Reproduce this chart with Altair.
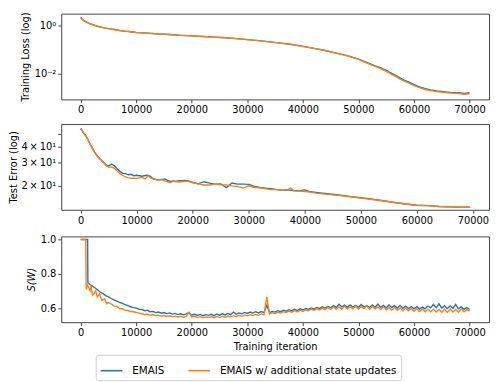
import altair as alt
import pandas as pd

S1 = "EMAIS"
S2 = "EMAIS w/ additional state updates"
BLUE = "#1f77b4"
ORANGE = "#ff7f0e"

# ---------------- Training loss (top) ----------------
loss_iter = [0, 250, 500, 1000, 1500, 2000, 3000, 4000, 5000, 6000, 7000, 8000, 9000, 10000,
             12000, 14000, 16000, 18000, 20000, 22000, 24000, 26000, 28000, 30000,
             32000, 34000, 36000, 38000, 40000, 42000, 44000, 46000, 48000, 50000,
             51000, 52000, 53000, 54000, 55000, 56000, 57000, 58000, 59000, 60000,
             61000, 62000, 63000, 64000, 65000, 66000, 67000, 68000, 69000, 70000]
loss_emais_su = [2.19, 1.82, 1.62, 1.40, 1.23, 1.12, 0.93, 0.82, 0.74, 0.68, 0.62, 0.58, 0.55, 0.51,
                 0.48, 0.44, 0.42, 0.39, 0.37, 0.35, 0.33, 0.31, 0.285, 0.257,
                 0.234, 0.209, 0.186, 0.162, 0.135, 0.112, 0.091, 0.071, 0.055, 0.039,
                 0.031, 0.025, 0.020, 0.016, 0.0125, 0.0093, 0.0070, 0.0051, 0.0041, 0.0032,
                 0.0026, 0.0022, 0.0020, 0.0018, 0.0017, 0.0016, 0.00155, 0.0015, 0.0014, 0.00145]
loss_emais = [2.19, 1.82, 1.62, 1.40, 1.23, 1.12, 0.93, 0.82, 0.74, 0.68, 0.62, 0.58, 0.55, 0.51,
              0.48, 0.44, 0.42, 0.39, 0.37, 0.35, 0.33, 0.31, 0.285, 0.257,
              0.234, 0.209, 0.186, 0.162, 0.135, 0.112, 0.091, 0.071, 0.056, 0.040,
              0.032, 0.026, 0.021, 0.0172, 0.0138, 0.0102, 0.0077, 0.0057, 0.0045, 0.0035,
              0.0028, 0.0024, 0.0021, 0.0019, 0.0018, 0.0017, 0.0016, 0.0016, 0.0015, 0.0016]

# ---------------- Test error (middle) ----------------
err_iter = [0, 500, 1000, 1500, 2000, 2500, 3000, 3500, 4000, 4500, 5000, 5500, 6000, 6500,
            7000, 7500, 8000, 8500, 9000, 9500, 10000, 10500, 11000, 11500, 12000, 12500,
            13000, 13500, 14000, 14500, 15000, 15500, 16000, 16500, 17000, 17500, 18000,
            18500, 19000, 19500, 20000, 21000, 22000, 23000, 24000, 25000, 26000, 27000,
            28000, 29000, 30000, 31000, 32000, 33000, 34000, 35000, 36000, 37000, 37500,
            38000, 39000, 40000, 41000, 42000, 44000, 46000, 48000, 50000, 52000, 54000,
            56000, 58000, 60000, 62000, 64000, 66000, 68000, 69500]
err_emais_su = [55.0, 51.0, 47.7, 43.0, 39.1, 36.0, 33.5, 31.7, 30.3, 28.6, 27.8, 27.8, 27.3, 26.0,
                24.8, 24.0, 23.4, 23.0, 22.8, 22.9, 22.8, 23.0, 23.2, 22.6, 23.9, 22.9,
                22.8, 22.3, 22.1, 22.3, 21.8, 21.5, 21.2, 21.6, 21.6, 21.4, 21.5,
                21.6, 21.7, 21.4, 21.2, 20.7, 20.3, 20.3, 20.6, 20.4, 20.3, 20.0,
                19.8, 19.2, 20.0, 19.4, 19.3, 19.0, 18.7, 18.7, 18.5, 18.7, 19.3,
                18.3, 18.2, 18.1, 17.9, 17.6, 17.2, 16.9, 16.5, 16.1, 15.7, 15.3,
                14.9, 14.5, 14.2, 14.1, 13.9, 13.8, 13.7, 13.7]
err_emais = [55.0, 51.2, 47.9, 43.3, 39.4, 36.3, 33.8, 32.0, 30.6, 29.0, 28.3, 29.4, 28.6, 27.0,
             25.8, 24.9, 24.8, 24.3, 24.5, 23.9, 24.1, 23.9, 23.7, 24.0, 24.1, 23.5,
             22.5, 22.3, 22.1, 22.4, 22.6, 22.0, 21.6, 21.8, 21.6, 21.9, 21.9,
             22.0, 21.9, 21.6, 21.2, 20.7, 21.5, 21.0, 20.6, 20.7, 19.4, 21.0,
             20.6, 20.6, 20.5, 19.8, 19.4, 19.2, 19.0, 18.7, 18.5, 18.6, 18.5,
             18.4, 18.3, 18.6, 18.0, 17.8, 17.4, 17.0, 16.6, 16.2, 15.8, 15.4,
             14.9, 14.5, 14.2, 14.1, 13.9, 13.8, 13.7, 13.7]

# ---------------- S(W) (bottom) ----------------
s_iter_tail = list(range(10000, 70001, 500))
s_iter_head_su = [0, 500, 900, 1000, 1200, 1500, 1700, 1900, 2100, 2400, 2700, 3000, 3400,
                  3800, 4300, 4700, 5000, 5500, 6000, 6500, 7000, 7500, 8000, 8500, 9000, 9500]
s_head_su = [1.0, 1.0, 1.0, 0.71, 0.735, 0.72, 0.70, 0.73, 0.675, 0.685, 0.70, 0.665, 0.683,
             0.645, 0.655, 0.626, 0.632, 0.624, 0.613, 0.610, 0.597, 0.596, 0.587, 0.586, 0.580, 0.579]
s_iter_head = [0, 500, 1000, 1250, 1300, 1500, 2000, 2500, 3000, 3500, 4000, 4500, 5000, 5500,
               6000, 6500, 7000, 7500, 8000, 8500, 9000, 9500]
s_head = [1.0, 1.0, 1.0, 1.0, 0.749, 0.742, 0.732, 0.720, 0.707, 0.694, 0.684, 0.673, 0.665, 0.656,
          0.648, 0.641, 0.633, 0.627, 0.620, 0.614, 0.608, 0.603]
s_tail = [0.600, 0.594, 0.592, 0.585, 0.588, 0.579, 0.581, 0.574, 0.577, 0.570,
          0.574, 0.568, 0.572, 0.565, 0.569, 0.562, 0.567, 0.561, 0.566, 0.574,
          0.559, 0.564, 0.557, 0.563, 0.556, 0.562, 0.558, 0.564, 0.556, 0.566,
          0.559, 0.567, 0.560, 0.569, 0.562, 0.577, 0.565, 0.572, 0.567, 0.575,
          0.569, 0.577, 0.571, 0.579, 0.572, 0.580, 0.574, 0.617, 0.574, 0.581,
          0.577, 0.585, 0.579, 0.588, 0.582, 0.591, 0.584, 0.593, 0.586, 0.596,
          0.589, 0.598, 0.592, 0.601, 0.594, 0.604, 0.597, 0.607, 0.599, 0.611,
          0.602, 0.614, 0.604, 0.622, 0.607, 0.617, 0.605, 0.619, 0.606, 0.616,
          0.604, 0.621, 0.606, 0.615, 0.603, 0.619, 0.605, 0.623, 0.604, 0.616,
          0.602, 0.618, 0.603, 0.614, 0.600, 0.616, 0.599, 0.612, 0.597, 0.609,
          0.596, 0.608, 0.594, 0.606, 0.596, 0.612, 0.601, 0.622, 0.603, 0.625,
          0.600, 0.614, 0.597, 0.612, 0.598, 0.621, 0.596, 0.607, 0.593, 0.603,
          0.592]
s_tail_su = [0.575, 0.571, 0.567, 0.563, 0.565, 0.559, 0.561, 0.556, 0.559, 0.553,
             0.557, 0.551, 0.555, 0.549, 0.553, 0.548, 0.552, 0.547, 0.551, 0.576,
             0.548, 0.552, 0.545, 0.550, 0.544, 0.549, 0.545, 0.551, 0.544, 0.552,
             0.546, 0.553, 0.547, 0.554, 0.549, 0.556, 0.550, 0.558, 0.552, 0.560,
             0.555, 0.562, 0.557, 0.563, 0.558, 0.566, 0.561, 0.664, 0.566, 0.573,
             0.568, 0.576, 0.571, 0.579, 0.574, 0.582, 0.576, 0.585, 0.578, 0.588,
             0.581, 0.590, 0.584, 0.594, 0.586, 0.597, 0.589, 0.600, 0.591, 0.604,
             0.592, 0.606, 0.593, 0.607, 0.594, 0.611, 0.595, 0.609, 0.596, 0.612,
             0.595, 0.608, 0.597, 0.613, 0.594, 0.609, 0.596, 0.607, 0.592, 0.606,
             0.590, 0.604, 0.589, 0.603, 0.587, 0.601, 0.585, 0.600, 0.584, 0.598,
             0.582, 0.597, 0.580, 0.595, 0.579, 0.593, 0.578, 0.594, 0.577, 0.592,
             0.576, 0.593, 0.575, 0.594, 0.577, 0.592, 0.576, 0.595, 0.578, 0.591,
             0.583]

x_ticks = [0, 10000, 20000, 30000, 40000, 50000, 60000, 70000]

assert len(loss_iter) == len(loss_emais) == len(loss_emais_su)
assert len(err_iter) == len(err_emais) == len(err_emais_su)
assert len(s_iter_head) == len(s_head) and len(s_iter_head_su) == len(s_head_su)
assert len(s_iter_tail) == len(s_tail) == len(s_tail_su)


def long_df(xs1, ys1, xs2, ys2):
    a = pd.DataFrame({"iter": xs1, "value": ys1, "series": S1, "k": range(len(xs1))})
    b = pd.DataFrame({"iter": xs2, "value": ys2, "series": S2, "k": range(len(xs2))})
    return pd.concat([a, b], ignore_index=True)


df_loss = long_df(loss_iter, loss_emais, loss_iter, loss_emais_su)
df_err = long_df(err_iter, err_emais, err_iter, err_emais_su)
df_s = long_df(s_iter_head + s_iter_tail, s_head + s_tail,
               s_iter_head_su + s_iter_tail, s_head_su + s_tail_su)

color_scale = alt.Scale(domain=[S1, S2], range=[BLUE, ORANGE])
legend = alt.Legend(title=None, orient="none", legendX=35, legendY=346, direction="horizontal",
                    symbolType="stroke", symbolStrokeWidth=1.6, symbolSize=484,
                    labelFontSize=10.5, labelFont="DejaVu Sans", labelColor="black",
                    labelLimit=400, strokeColor="#cccccc", cornerRadius=3, padding=4,
                    columnPadding=20, labelOffset=9)

W = 434
H = 87


def panel(df, xdomain, yscale, yaxis, xtitle):
    xaxis = alt.Axis(values=x_ticks, format="d", title=xtitle)
    layers = []
    for s in [S1, S2]:
        layers.append(
            alt.Chart(df).transform_filter(alt.datum.series == s).mark_line(
                strokeWidth=1.4, clip=True
            ).encode(
                x=alt.X("iter:Q", scale=alt.Scale(domain=xdomain, nice=False, zero=False), axis=xaxis),
                y=alt.Y("value:Q", scale=yscale, axis=yaxis),
                color=alt.Color("series:N", scale=color_scale, legend=legend),
                order="k:Q",
            )
        )
    return alt.layer(*layers).properties(width=W, height=H)


top = panel(
    df_loss, [-3500, 73500],
    alt.Scale(type="log", domain=[0.00085, 3.1], nice=False),
    alt.Axis(values=[1, 0.01], title="Training Loss (log)",
             labelExpr="datum.value >= 1 ? '10⁰' : '10⁻²'"),
    None,
)
mid = panel(
    df_err, [-3470, 72870],
    alt.Scale(type="log", domain=[13.1, 59.5], nice=False),
    alt.Axis(values=[20, 30, 40, 50], title="Test Error (log)", titlePadding=2,
             labelExpr="datum.value == 50 ? '' : (datum.value / 10) + '\u2009×\u200910¹'"),
    None,
)
bot = panel(
    df_s, [-3500, 73500],
    alt.Scale(domain=[0.518, 1.018], nice=False, zero=False),
    alt.Axis(values=[0.6, 0.8, 1.0], format=".1f", title="S(W)", titleFontStyle="italic"),
    "Training iteration",
)

chart = alt.vconcat(top, mid, bot, spacing=8).properties(
    padding={"left": 0, "top": 0, "right": 0, "bottom": 0}
).configure_view(
    stroke="#444444", strokeWidth=1
).configure_axis(
    grid=False, domain=False, tickSize=3.5, tickColor="#333333", tickWidth=0.9,
    labelFont="DejaVu Sans", labelFontSize=10, labelColor="black", labelPadding=2,
    titleFont="DejaVu Sans", titleFontSize=10, titleFontWeight="normal", titleColor="black",
    titlePadding=4,
)

chart.save("out.html", embed_options={"renderer": "svg", "actions": False})
